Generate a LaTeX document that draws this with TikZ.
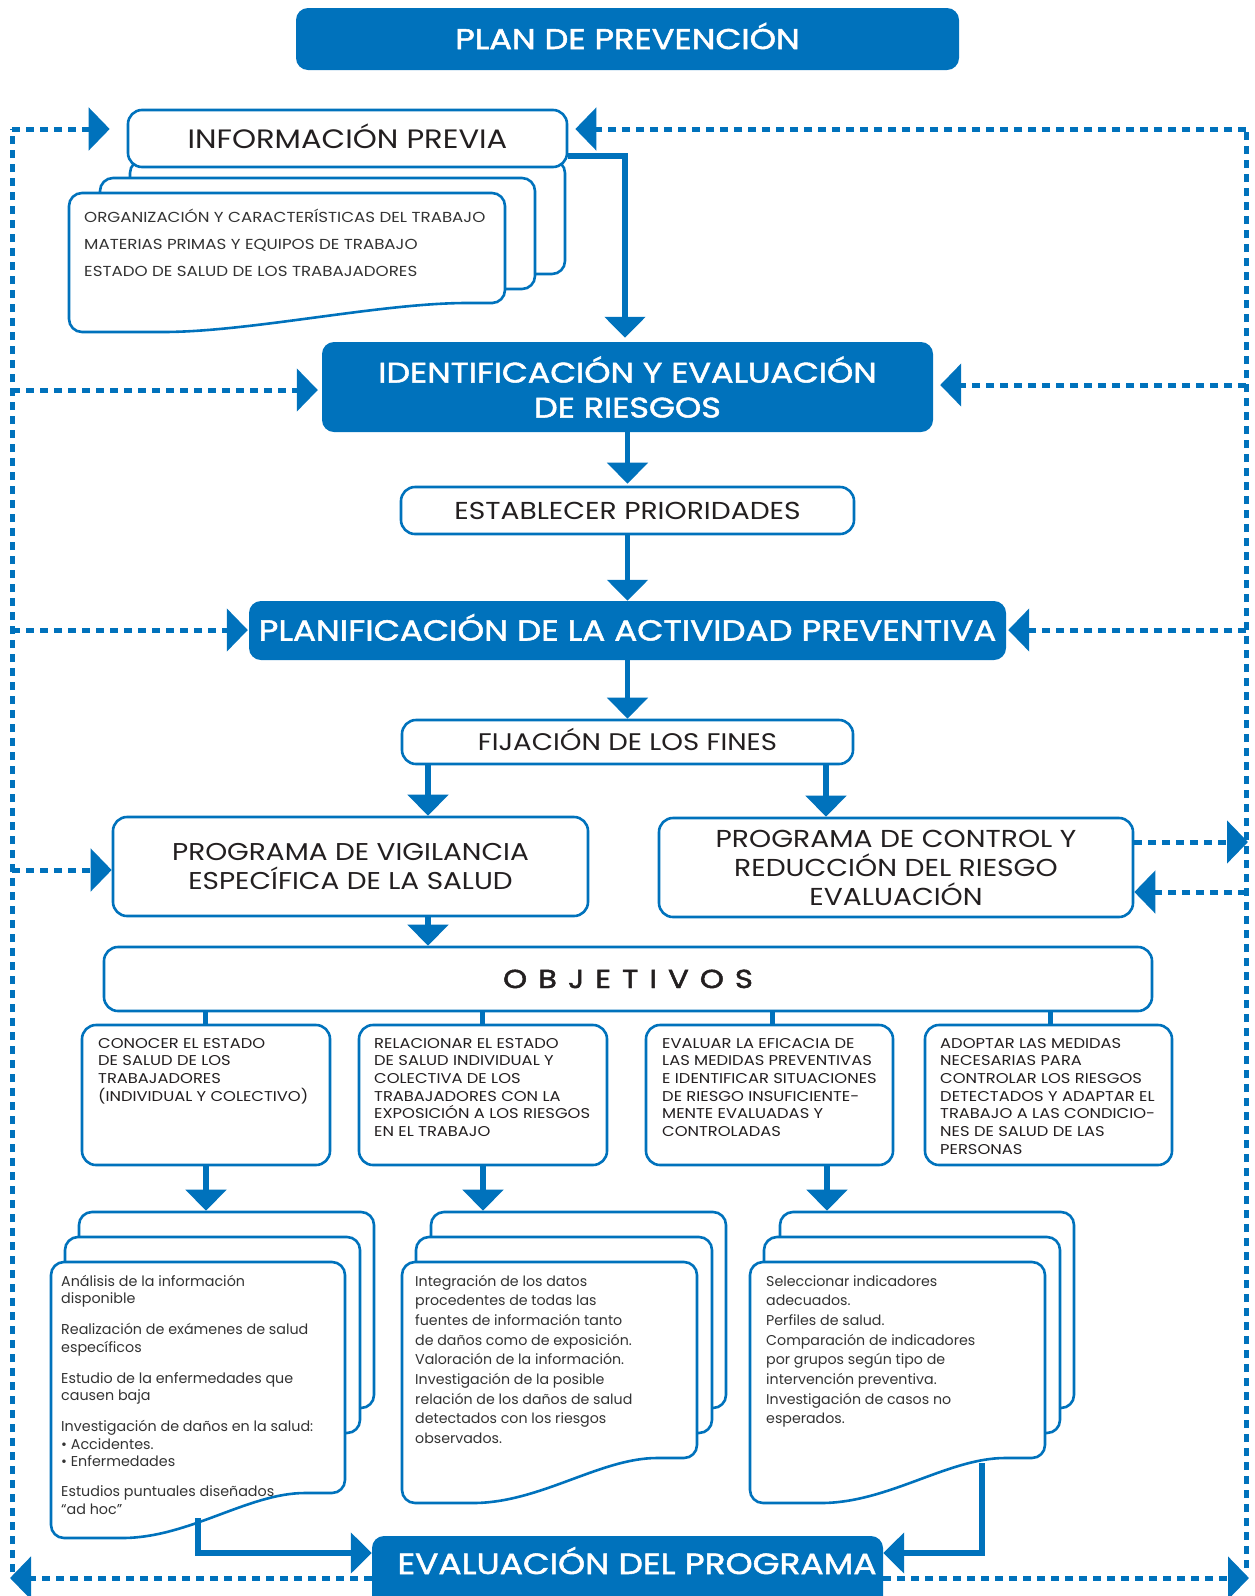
\documentclass[tikz,border=0pt]{standalone}
\usepackage{fontspec}
\setmainfont{Poppins}
\newfontfamily\headfont{Poppins}[FakeStretch=1.18,FakeBold=1.8]
\newfontfamily\capsfont{Poppins}[FakeStretch=1.15]
\usetikzlibrary{arrows.meta}
\definecolor{bl}{HTML}{0072BC}
\definecolor{tx}{HTML}{231F20}
\definecolor{tg}{HTML}{333333}
\newcommand\toptext[2]{\parbox[t]{#1}{\raggedright #2}}
\newcommand\lsp{\hspace{11pt}}
\tikzset{
  bluebox/.style={draw=none, fill=bl, rounded corners=12pt, text=white, align=center, inner sep=0pt},
  whitebox/.style={draw=bl, line width=2.6pt, fill=white, rounded corners=14pt, text=tx, align=center, inner sep=0pt},
  docline/.style={draw=bl, line width=2.6pt, fill=white, rounded corners=13pt},
  flow/.style={draw=bl, line width=5.5pt, -{Triangle[length=21pt,width=40pt]}},
  fb/.style={draw=bl, line width=5pt, dash pattern=on 8pt off 6pt, -{Triangle[length=21pt,width=42pt]}},
  fbline/.style={draw=bl, line width=5pt, dash pattern=on 8pt off 6pt},
  stub/.style={draw=bl, line width=5pt},
  objtext/.style={text=tx, inner sep=0pt, anchor=base west, font=\capsfont\fontsize{14.2}{17.7}\selectfont},
  doctext/.style={text=tg, inner sep=0pt, anchor=base west, font=\fontsize{14.3}{17.5}\selectfont},
  doctextb/.style={text=tg, inner sep=0pt, anchor=base west, font=\fontsize{14.2}{19.7}\selectfont},
}
% L, R, T, BR, BL
\newcommand\docshape[5]{%
  \filldraw[docline] ({#1},{(#3+#4)/2}) -- ({#1},#3) -- ({#2},#3) -- ({#2},#4) -- ({#2-27},#4)
    .. controls ({#2-97},#4) and ({#1+138},#5) .. ({#1+58},#5) -- ({#1},#5) -- cycle;
}
\begin{document}
\begin{tikzpicture}[x=1pt,y=-1pt]
\useasboundingbox (0,0) rectangle (1254,1596);
\clip (0,0) rectangle (1254,1596);

% ---------------- title
\node[bluebox, minimum width=663pt, minimum height=62pt, text height=20pt, text depth=0pt, font=\headfont\fontsize{28.5}{30}\selectfont] (plan) at (627.5,39) {PLAN DE PREVENCIÓN};

% ---------------- informacion previa stack
\node[whitebox, rounded corners=13pt, minimum width=435pt, minimum height=114pt] (ib1) at (347.5,217) {};
\node[whitebox, rounded corners=13pt, minimum width=435pt, minimum height=111pt] (ib2) at (317.5,233.5) {};
\filldraw[docline] (69,260) -- (69,193) -- (505,193) -- (505,303) -- (480,303)
  .. controls (380,303) and (250,332) .. (150,332) -- (69,332) -- cycle;
\node[text=tg, inner sep=0pt, anchor=base west, font=\capsfont\fontsize{14.5}{27}\selectfont] (ilist) at (84,222)
  {\toptext{430pt}{ORGANIZACIÓN Y CARACTERÍSTICAS DEL TRABAJO\\MATERIAS PRIMAS Y EQUIPOS DE TRABAJO\\ESTADO DE SALUD DE LOS TRABAJADORES}};
\node[whitebox, minimum width=439pt, minimum height=57pt, text height=19pt, text depth=0pt, font=\capsfont\fontsize{26.6}{30}\selectfont] (info) at (347.5,138.5) {INFORMACIÓN PREVIA};

% ---------------- main column
\node[bluebox, minimum width=611pt, minimum height=90pt, font=\headfont\fontsize{28.3}{35}\selectfont] (ident) at (627.5,387) {IDENTIFICACIÓN Y EVALUACIÓN\\DE RIESGOS};
\node[whitebox, minimum width=453pt, minimum height=47pt, text height=17pt, text depth=0pt, font=\capsfont\fontsize{24.5}{28}\selectfont] (est) at (627.5,510.5) {ESTABLECER PRIORIDADES};
\node[bluebox, minimum width=757pt, minimum height=59pt, text height=20pt, text depth=0pt, font=\headfont\fontsize{28.8}{35}\selectfont] (planif) at (627.5,630.5) {PLANIFICACIÓN DE LA ACTIVIDAD PREVENTIVA};
\node[whitebox, minimum width=451pt, minimum height=44pt, text height=17pt, text depth=0pt, font=\capsfont\fontsize{24}{28}\selectfont] (fij) at (627.5,742) {FIJACIÓN DE LOS FINES};
\node[whitebox, minimum width=475pt, minimum height=99pt, font=\capsfont\fontsize{24.3}{29}\selectfont] (vig) at (350.5,866.5) {PROGRAMA DE VIGILANCIA\\ESPECÍFICA DE LA SALUD};
\node[whitebox, minimum width=474pt, minimum height=99pt, font=\capsfont\fontsize{24.5}{29}\selectfont] (ctrl) at (896,867.5) {PROGRAMA DE CONTROL Y\\REDUCCIÓN DEL RIESGO\\EVALUACIÓN};
\node[whitebox, minimum width=1048pt, minimum height=64pt, text height=18pt, text depth=0pt, font=\headfont\fontsize{26}{30}\selectfont] (obj) at (628,979) {O\lsp B\lsp J\lsp E\lsp T\lsp I\lsp V\lsp O\lsp S};

% ---------------- objectives
\node[whitebox, minimum width=248pt, minimum height=140pt] (o1) at (206,1095) {};
\node[whitebox, minimum width=248pt, minimum height=140pt] (o2) at (483,1095) {};
\node[whitebox, minimum width=247pt, minimum height=140pt] (o3) at (769.5,1095) {};
\node[whitebox, minimum width=247pt, minimum height=140pt] (o4) at (1048.5,1095) {};
\node[objtext] (o1t) at (98,1048) {\toptext{240pt}{CONOCER EL ESTADO\\DE SALUD DE LOS\\TRABAJADORES\\(INDIVIDUAL Y COLECTIVO)}};
\node[objtext] (o2t) at (374,1048) {\toptext{240pt}{RELACIONAR EL ESTADO\\DE SALUD INDIVIDUAL Y\\COLECTIVA DE LOS\\TRABAJADORES CON LA\\EXPOSICIÓN A LOS RIESGOS\\EN EL TRABAJO}};
\node[objtext] (o3t) at (662,1048) {\toptext{240pt}{EVALUAR LA EFICACIA DE\\LAS MEDIDAS PREVENTIVAS\\E IDENTIFICAR SITUACIONES\\DE RIESGO INSUFICIENTE-\\MENTE EVALUADAS Y\\CONTROLADAS}};
\node[objtext] (o4t) at (940,1048) {\toptext{240pt}{ADOPTAR LAS MEDIDAS\\NECESARIAS PARA\\CONTROLAR LOS RIESGOS\\DETECTADOS Y ADAPTAR EL\\TRABAJO A LAS CONDICIO-\\NES DE SALUD DE LAS\\PERSONAS}};

% ---------------- document stacks
\node[whitebox, rounded corners=13pt, minimum width=295pt, minimum height=196pt] (s1a) at (226.5,1310) {};
\node[whitebox, rounded corners=13pt, minimum width=295pt, minimum height=196pt] (s1b) at (212.5,1335) {};
\docshape{51}{345}{1262}{1493}{1538}
\node[whitebox, rounded corners=13pt, minimum width=295pt, minimum height=196pt] (s2a) at (578.5,1310) {};
\node[whitebox, rounded corners=13pt, minimum width=296pt, minimum height=196pt] (s2b) at (564,1335) {};
\docshape{402}{697}{1262}{1458}{1503}
\node[whitebox, rounded corners=13pt, minimum width=294pt, minimum height=196pt] (s3a) at (927,1310) {};
\node[whitebox, rounded corners=13pt, minimum width=296pt, minimum height=196pt] (s3b) at (912,1335) {};
\docshape{750}{1045}{1262}{1458}{1503}

\node[doctext] (s1t) at (61,1286) {\toptext{280pt}{Análisis de la información\\disponible\\[13.5pt]Realización de exámenes de salud\\específicos\\[13.5pt]Estudio de la enfermedades que\\causen baja\\[13.5pt]Investigación de daños en la salud:\\• Accidentes.\\• Enfermedades\\[12.5pt]Estudios puntuales diseñados\\“ad hoc”}};
\node[doctextb] (s2t) at (415,1286) {\toptext{280pt}{Integración de los datos\\procedentes de todas las\\fuentes de información tanto\\de daños como de exposición.\\Valoración de la información.\\Investigación de la posible\\relación de los daños de salud\\detectados con los riesgos\\observados.}};
\node[doctextb] (s3t) at (766,1286) {\toptext{280pt}{Seleccionar indicadores\\adecuados.\\Perfiles de salud.\\Comparación de indicadores\\por grupos según tipo de\\intervención preventiva.\\Investigación de casos no\\esperados.}};

% ---------------- evaluation
\node[bluebox, minimum width=511pt, minimum height=80pt] (eval) at (627.5,1576) {};
\node[text=white, font=\headfont\fontsize{29.2}{35}\selectfont, inner sep=0pt, anchor=base] (evalt) at (637,1574) {EVALUACIÓN DEL PROGRAMA};

% ---------------- coordinates for connectors
\coordinate (xv) at (428,0);
\coordinate (xc) at (826,0);
\coordinate (x1) at (205,0);
\coordinate (x2) at (482,0);
\coordinate (x3) at (772,0);
\coordinate (x4) at (1050,0);
\coordinate (y1) at (206,0);
\coordinate (y2) at (483,0);
\coordinate (y3) at (827,0);
\coordinate (d1) at (198,1518);
\coordinate (d3) at (982,1463);

% ---------------- solid flow arrows
\draw[flow] ([yshift=-17.5pt]info.east) -| ([xshift=-2.5pt,yshift=4pt]ident.north);
\draw[flow, shorten >=2pt] (ident) -- (est);
\draw[flow] (est) -- (planif);
\draw[flow] (planif) -- (fij);
\draw[flow] (fij.south -| xv) -- (vig.north -| xv);
\draw[flow] (fij.south -| xc) -- (ctrl.north -| xc);
\draw[flow] (vig.south -| xv) -- (obj.north -| xv);
\draw[stub] (obj.south -| x1) -- (o1.north -| x1);
\draw[stub] (obj.south -| x2) -- (o2.north -| x2);
\draw[stub] (obj.south -| x3) -- (o3.north -| x3);
\draw[stub] (obj.south -| x4) -- (o4.north -| x4);
\draw[flow] (o1.south -| y1) -- (s1a.north -| y1);
\draw[flow] (o2.south -| y2) -- (s2a.north -| y2);
\draw[flow] (o3.south -| y3) -- (s3a.north -| y3);
\draw[flow] (d1) |- ([yshift=23pt]eval.west);
\draw[flow] (d3) |- ([yshift=23pt]eval.east);

% ---------------- dotted feedback lines
\coordinate (L0) at (12,129);
\coordinate (L1) at (12,390);
\coordinate (L2) at (12,630);
\coordinate (L3) at (12,870);
\coordinate (L4) at (12,1572);
\coordinate (LB) at (10,1578);
\coordinate (R0) at (1246,129);
\coordinate (R1) at (1246,385);
\coordinate (R2) at (1246,630);
\coordinate (R3) at (1248,842);
\coordinate (R4) at (1246,892);
\coordinate (R5) at (1246,1568);
\coordinate (RB) at (1249,1578);

\draw[fbline] (L4) -- (L0);
\draw[fbline] (R5) -- (R0);
\draw[fb, shorten >=17pt] (L0) -- (info.west |- L0);
\draw[fb, shorten >=4pt] (L1) -- (ident.west |- L1);
\draw[fb, shorten >=1pt] (L2) -- (planif.west |- L2);
\draw[fb] (L3) -- (vig.west |- L3);
\draw[fb, shorten >=7pt] (R0) -- (info.east |- R0);
\draw[fb, shorten >=7pt] (R1) -- (ident.east |- R1);
\draw[fb, shorten >=2pt] (R2) -- (planif.east |- R2);
\draw[fb] (ctrl.east |- R3) -- (R3);
\draw[fb] (R4) -- (ctrl.east |- R4);
\draw[fb] (eval.west |- LB) -- (LB);
\draw[fb] (eval.east |- RB) -- (RB);
\end{tikzpicture}
\end{document}
